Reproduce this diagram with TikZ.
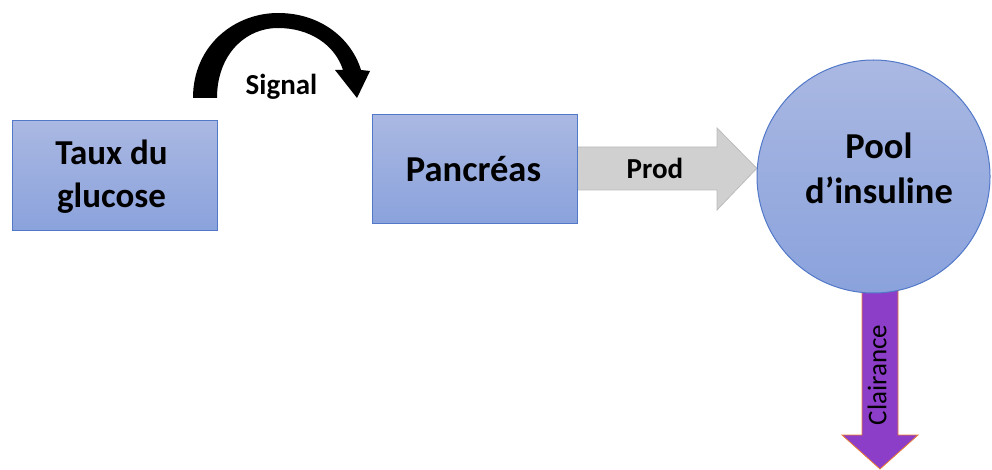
\documentclass[tikz,border=0pt]{standalone}
\usepackage{fontspec}
\setmainfont{Carlito}
\usetikzlibrary{calc}
\definecolor{boxline}{RGB}{82,120,200}
\definecolor{bluetop}{RGB}{170,184,226}
\definecolor{bluebot}{RGB}{138,162,220}
\definecolor{prodfill}{RGB}{208,208,208}
\definecolor{prodline}{RGB}{188,188,188}
\definecolor{clairfill}{RGB}{140,62,200}
\definecolor{clairline}{RGB}{237,125,49}
\pgfdeclarelayer{bg}
\pgfsetlayers{bg,main}
\begin{document}
\begin{tikzpicture}[x=1pt,y=-1pt,
  box/.style={draw=boxline, line width=1pt, top color=bluetop, bottom color=bluebot,
    minimum width=205pt, inner sep=0pt},
  bigtxt/.style={font=\fontsize{36.5}{43}\selectfont\bfseries, align=center, inner sep=0pt},
  smalltxt/.style={font=\fontsize{29}{32}\selectfont\bfseries, inner sep=0pt},
  prodarrow/.style={fill=prodfill, draw=prodline, line width=0.8pt},
  clairarrow/.style={fill=clairfill, draw=clairline, line width=0.8pt}]
\useasboundingbox (0,0) rectangle (992,470);
% boxes
\node[box, minimum height=110pt] (taux) at (114.5,176) {};
\node[bigtxt, font=\fontsize{35}{43}\selectfont\bfseries] (tauxtxt) at (111.5,177) {Taux du\\glucose};
\node[box, minimum height=109pt] (panc) at (474.5,169.5) {};
\node[bigtxt, anchor=base] (panctxt) at (473.5,182) {Pancréas};
\node[circle, draw=boxline, line width=1pt, top color=bluetop, bottom color=bluebot,
  minimum size=233pt, inner sep=0pt] (pool) at (873.5,176.5) {};
\node[bigtxt, font=\fontsize{36.5}{45}\selectfont\bfseries] (pooltxt) at (879,168) {Pool\\d’insuline};
% block arrows
\begin{pgfonlayer}{bg}
\draw[prodarrow] (panc.east |- 0,147) -- (717,147) -- (717,128) -- (pool.176)
  -- (717,210) -- (717,190) -- (panc.east |- 0,190) -- cycle;
\draw[clairarrow] ([xshift=-11.5pt,yshift=8pt]pool.south) -- (862,435) -- (842,435)
  -- (880,469) -- (918,435) -- (898,435) -- ([xshift=24.5pt,yshift=8pt]pool.south) -- cycle;
\end{pgfonlayer}
\node[smalltxt, anchor=base] (prodtxt) at (655,178.5) {Prod};
\node[font=\fontsize{27}{30}\selectfont, rotate=90, inner sep=0pt] (clairtxt) at (877,375) {Clairance};
% Signal curved arrow
\fill[black] (193,98) .. controls (193,45) and (235,13) .. (278,13)
  .. controls (322,13) and (352,40) .. (361,70) -- (370,71) -- (357,98) -- (335,70)
  -- (343,70) .. controls (335,45) and (310,28) .. (278,28)
  .. controls (245,28) and (217,55) .. (217,98) -- cycle;
\node[smalltxt, anchor=base] (sigtxt) at (281.5,95) {Signal};
\end{tikzpicture}
\end{document}
